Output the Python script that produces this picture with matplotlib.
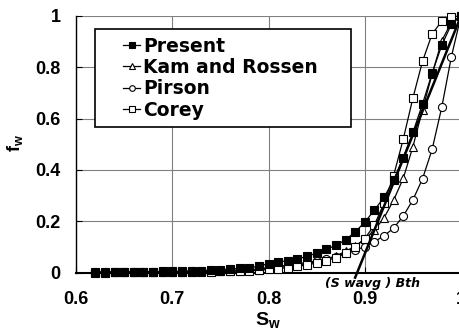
import matplotlib
matplotlib.use("Agg")
import matplotlib.pyplot as plt
from matplotlib.legend_handler import HandlerLine2D
import numpy as np

plt.rcParams['font.family'] = ['Liberation Sans', 'DejaVu Sans']
plt.rcParams['mathtext.fontset'] = 'custom'
plt.rcParams['mathtext.rm'] = 'Liberation Sans:bold'
plt.rcParams['mathtext.it'] = 'Liberation Sans:bold:italic'
plt.rcParams['mathtext.bf'] = 'Liberation Sans:bold'

sw = [0.62, 0.63, 0.64, 0.65, 0.66, 0.67, 0.68, 0.69, 0.70, 0.71,
      0.72, 0.73, 0.74, 0.75, 0.76, 0.77, 0.78, 0.79, 0.80, 0.81,
      0.82, 0.83, 0.84, 0.85, 0.86, 0.87, 0.88, 0.89, 0.90, 0.91,
      0.92, 0.93, 0.94, 0.95, 0.96, 0.97, 0.98, 0.99, 1.00]

present = [0.001, 0.001, 0.002, 0.002, 0.002, 0.003, 0.003, 0.004, 0.004, 0.005,
           0.006, 0.007, 0.009, 0.011, 0.013, 0.016, 0.019, 0.024, 0.035, 0.041,
           0.046, 0.053, 0.063, 0.076, 0.090, 0.106, 0.127, 0.158, 0.196, 0.243,
           0.293, 0.360, 0.448, 0.546, 0.657, 0.777, 0.886, 0.968, 1.000]

kam = [0.001, 0.001, 0.001, 0.001, 0.001, 0.002, 0.002, 0.002, 0.002, 0.003,
       0.003, 0.004, 0.004, 0.005, 0.006, 0.007, 0.009, 0.011, 0.016, 0.020,
       0.024, 0.029, 0.035, 0.043, 0.052, 0.065, 0.082, 0.103, 0.130, 0.165,
       0.213, 0.282, 0.367, 0.490, 0.634, 0.774, 0.903, 0.976, 1.000]

pirson = [0.001, 0.001, 0.001, 0.002, 0.002, 0.002, 0.002, 0.003, 0.003, 0.003,
          0.004, 0.005, 0.005, 0.006, 0.007, 0.009, 0.011, 0.013, 0.020, 0.024,
          0.028, 0.033, 0.039, 0.045, 0.053, 0.062, 0.075, 0.088, 0.100, 0.120,
          0.143, 0.173, 0.220, 0.283, 0.365, 0.480, 0.644, 0.841, 1.000]

corey = [0.000, 0.000, 0.001, 0.001, 0.001, 0.001, 0.001, 0.001, 0.002, 0.002,
         0.002, 0.003, 0.003, 0.004, 0.005, 0.006, 0.007, 0.009, 0.012, 0.015,
         0.019, 0.024, 0.030, 0.037, 0.046, 0.058, 0.075, 0.100, 0.132, 0.185,
         0.270, 0.378, 0.520, 0.680, 0.823, 0.930, 0.980, 0.997, 1.000]

tangent_x = [0.890, 1.00]
tangent_y = [-0.02, 1.00]

xticks = [0.6, 0.7, 0.8, 0.9, 1.0]
xticklabels = ['0.6', '0.7', '0.8', '0.9', '1']
yticks = [0, 0.2, 0.4, 0.6, 0.8, 1.0]
yticklabels = ['0', '0.2', '0.4', '0.6', '0.8', '1']

fig = plt.figure(figsize=(4.59, 3.29), dpi=100)
ax = fig.add_axes([76/459, 1 - 272.5/329, (461-76)/459, (272.5-16)/329])

ax.set_xlim(0.6, 1.0)
ax.set_ylim(0, 1.0)

ax.grid(True, color='#808080', lw=0.8)
ax.set_axisbelow(True)

lw = 0.9
ms = 5.8
ax.plot(sw, present, color='black', lw=lw, marker='s', ms=ms, mfc='black', mec='black', mew=0.8, label='Present', clip_on=False, zorder=5)
ax.plot(sw, kam, color='black', lw=lw, marker='^', ms=ms+0.5, mfc='white', mec='black', mew=0.8, label='Kam and Rossen', clip_on=False, zorder=4)
ax.plot(sw, pirson, color='black', lw=lw, marker='o', ms=ms, mfc='white', mec='black', mew=0.8, label='Pirson', clip_on=False, zorder=4)
ax.plot(sw, corey, color='black', lw=lw, marker='s', ms=ms, mfc='white', mec='black', mew=0.8, label='Corey', clip_on=False, zorder=4)
ax.plot(tangent_x, tangent_y, color='black', lw=1.8, clip_on=False, zorder=6)

ax.set_xticks(xticks)
ax.set_xticklabels(xticklabels)
ax.set_yticks(yticks)
ax.set_yticklabels(yticklabels)
ax.tick_params(direction='in', length=4, width=0.8, labelsize=13)
ax.tick_params(axis='x', pad=13)
ax.tick_params(axis='y', pad=11)
for lab in ax.get_xticklabels() + ax.get_yticklabels():
    lab.set_fontweight('bold')

for s in ['top', 'right']:
    ax.spines[s].set_visible(False)
ax.spines['left'].set_linewidth(1.0)
ax.spines['bottom'].set_linewidth(1.5)

fig.text(268/459, 1 - 320/329, r'$\mathbf{S_w}$', fontsize=14, ha='center', va='center')
fig.text(15/459, 1 - 143/329, r'$\mathbf{f_w}$', fontsize=13, ha='center', va='center', rotation=90)

ax.text(0.859, -0.043, '(S wavg ) Bth', fontsize=9, fontweight='bold', fontstyle='italic',
        family='DejaVu Sans', ha='left', va='center', clip_on=False)

fs = 13.5
hmap = {h: HandlerLine2D(xpad=1.1) for h in ax.get_lines()[:4]}
leg = ax.legend(loc='upper left', bbox_to_anchor=(0.0494, 0.0, 0.665, 0.949), mode='expand',
                borderaxespad=0, handler_map=hmap,
                prop={'weight': 'bold', 'size': fs, 'family': 'DejaVu Sans'},
                frameon=True, fancybox=False, edgecolor='black',
                handlelength=2.0, handletextpad=0.16,
                labelspacing=0.13, borderpad=0.4, markerscale=0.7)
leg.get_frame().set_linewidth(1.2)
leg.get_frame().set_alpha(1)

fig.savefig('out.png', dpi=100)
